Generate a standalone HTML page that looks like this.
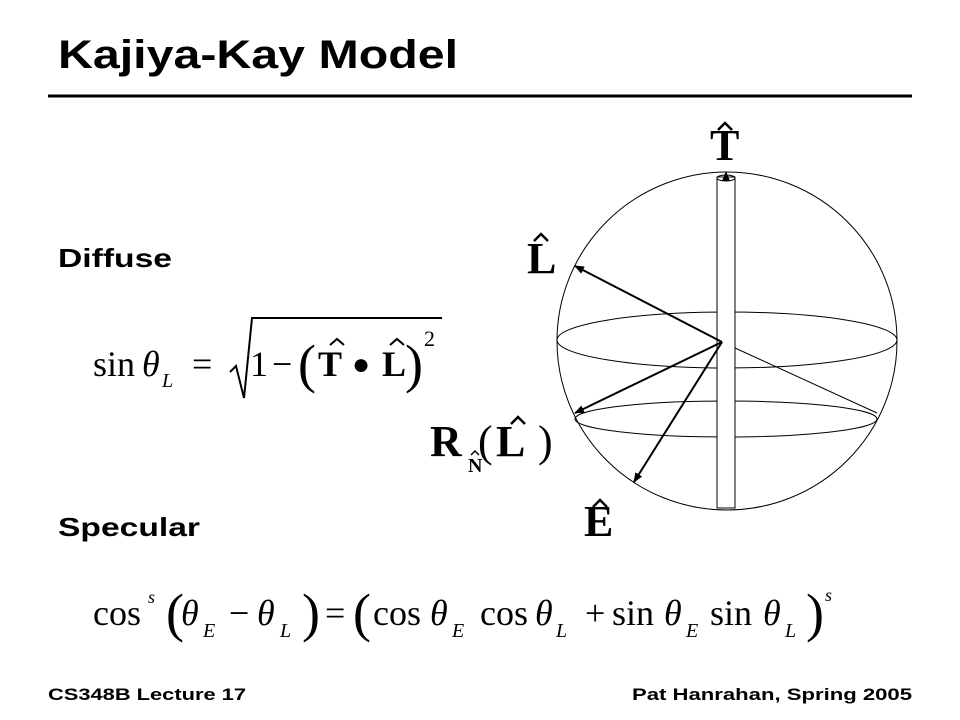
<!DOCTYPE html>
<html><head><style>
html,body{margin:0;padding:0;background:#fff;width:960px;height:720px;overflow:hidden}
svg{display:block}
</style></head><body>
<svg width="960" height="720" viewBox="0 0 960 720" xmlns="http://www.w3.org/2000/svg">
<defs>
<marker id="ah" markerWidth="10" markerHeight="8" refX="9" refY="4" orient="auto" markerUnits="userSpaceOnUse">
<path d="M0,0 L10,4 L0,8 z" fill="#000"/></marker>
</defs>
<g font-family="Liberation Sans, sans-serif" font-weight="bold">
<text x="58" y="68" font-size="40" textLength="400" lengthAdjust="spacingAndGlyphs">Kajiya-Kay Model</text>
<text x="58" y="267" font-size="26" textLength="114" lengthAdjust="spacingAndGlyphs">Diffuse</text>
<text x="58" y="536" font-size="26" textLength="142" lengthAdjust="spacingAndGlyphs">Specular</text>
<text x="48" y="700" font-size="17" textLength="198" lengthAdjust="spacingAndGlyphs">CS348B Lecture 17</text>
<text x="632" y="700" font-size="17" textLength="280" lengthAdjust="spacingAndGlyphs">Pat Hanrahan, Spring 2005</text>
</g>
<line x1="48" y1="96" x2="912" y2="96" stroke="#000" stroke-width="3"/>

<!-- diagram -->
<g fill="none" stroke="#000" stroke-width="1">
<ellipse cx="727" cy="341" rx="170" ry="169"/>
<ellipse cx="727" cy="340" rx="170" ry="28"/>
<ellipse cx="726" cy="419" rx="151" ry="18"/>
<line x1="722" y1="342" x2="877" y2="413"/>
<rect x="717" y="177" width="18" height="331" fill="#fff"/>
<ellipse cx="726" cy="178" rx="9" ry="3"/>
<line x1="726" y1="178" x2="726" y2="172" marker-end="url(#ah)"/>
</g>
<g stroke="#000" stroke-width="2" fill="none">
<line x1="722" y1="342" x2="575" y2="266" marker-end="url(#ah)"/>
<line x1="722" y1="342" x2="575" y2="413" marker-end="url(#ah)"/>
<line x1="722" y1="342" x2="634" y2="482" marker-end="url(#ah)"/>
</g>
<g font-family="Liberation Serif, serif" font-weight="bold" font-size="44">
<text x="710" y="160">T</text>
<text x="527" y="273">L</text>
<text x="430" y="456">R</text>
<text x="468" y="472" font-size="20">N</text>
<text x="478" y="456" font-weight="normal">(</text>
<text x="496" y="456">L</text>
<text x="538" y="456" font-weight="normal">)</text>
<text x="584" y="536">E</text>
</g>
<g fill="none" stroke="#000" stroke-width="2.5" stroke-linejoin="miter">
<path d="M718,130 L725,123 L732,130"/>
<path d="M534,241 L541,234 L548,241"/>
<path d="M511,424 L518,417 L525,424"/>
<path d="M593,507 L600,500 L607,507"/>
<path d="M471,455 L475,451 L479,455" stroke-width="1.5"/>
<path d="M330,345 L337,339 L344,345" stroke-width="2"/>
<path d="M390,345 L397,339 L404,345" stroke-width="2"/>
</g>

<!-- eq1 -->
<g font-family="Liberation Serif, serif" font-size="36">
<text x="93" y="376">sin</text>
<text x="142" y="376" font-style="italic">θ</text>
<text x="162" y="387" font-size="20" font-style="italic">L</text>
<text x="192" y="376">=</text>
<text x="250" y="376">1</text>
<text x="272" y="376">−</text>
<text x="298" y="382" font-size="54">(</text>
<text x="318" y="376" font-weight="bold">T</text>
<text x="352" y="374" font-size="30">●</text>
<text x="382" y="376" font-weight="bold">L</text>
<text x="405" y="382" font-size="54">)</text>
<text x="424" y="346" font-size="22">2</text>
</g>
<path d="M230,372 L236,366 L244,398 L252,318 L442,318" fill="none" stroke="#000" stroke-width="2"/>

<!-- eq2 -->
<g font-family="Liberation Serif, serif" font-size="36">
<text x="93" y="625">cos</text>
<text x="148" y="603" font-size="18" font-style="italic">s</text>
<text x="166" y="631" font-size="54">(</text>
<text x="181" y="625" font-style="italic">θ</text>
<text x="203" y="637" font-size="20" font-style="italic">E</text>
<text x="229" y="625">−</text>
<text x="257" y="625" font-style="italic">θ</text>
<text x="280" y="637" font-size="20" font-style="italic">L</text>
<text x="302" y="631" font-size="54">)</text>
<text x="325" y="625">=</text>
<text x="353" y="631" font-size="54">(</text>
<text x="373" y="625">cos</text>
<text x="430" y="625" font-style="italic">θ</text>
<text x="452" y="637" font-size="20" font-style="italic">E</text>
<text x="480" y="625">cos</text>
<text x="535" y="625" font-style="italic">θ</text>
<text x="556" y="637" font-size="20" font-style="italic">L</text>
<text x="585" y="625">+</text>
<text x="612" y="625">sin</text>
<text x="664" y="625" font-style="italic">θ</text>
<text x="686" y="637" font-size="20" font-style="italic">E</text>
<text x="710" y="625">sin</text>
<text x="763" y="625" font-style="italic">θ</text>
<text x="785" y="637" font-size="20" font-style="italic">L</text>
<text x="806" y="631" font-size="54">)</text>
<text x="825" y="601" font-size="18" font-style="italic">s</text>
</g>
</svg>
</body></html>
